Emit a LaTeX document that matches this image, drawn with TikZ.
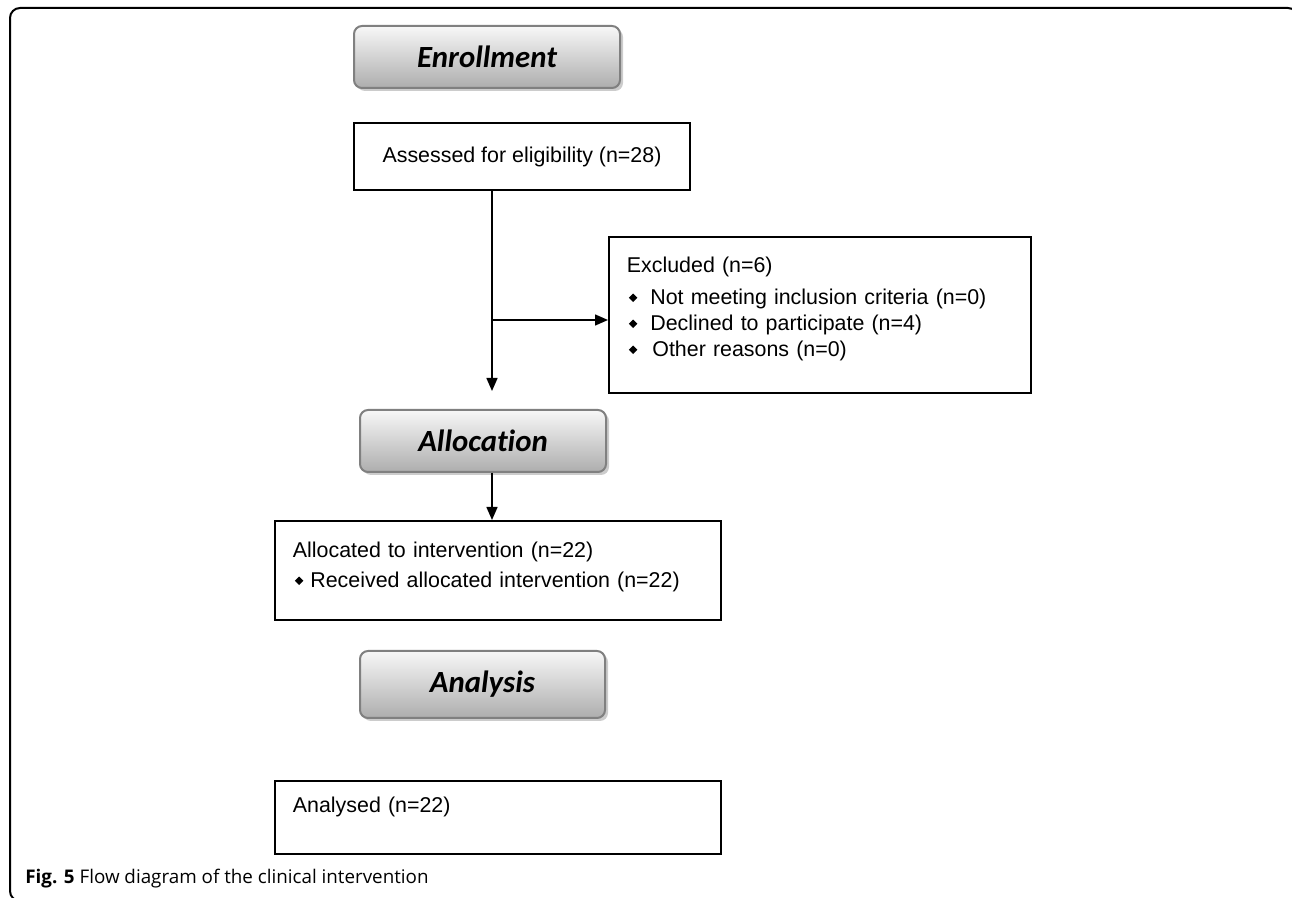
\documentclass[tikz,border=0pt]{standalone}
\usepackage{fontspec}
\setmainfont{Liberation Sans}
\newfontfamily\headfont[Ligatures=NoCommon]{Carlito}
\newfontfamily\capfont{Open Sans}
\usetikzlibrary{arrows.meta,shadows,positioning}

\newcommand{\dia}{\raisebox{0.25ex}{\rotatebox{45}{\rule{3pt}{3pt}}}}

\begin{document}
\begin{tikzpicture}[x=0.5pt,y=-0.5pt,
    box/.style={draw,line width=0.9pt,align=left,inner xsep=9pt,
      font=\fontsize{10.7}{13}\selectfont},
    phase/.style={draw=black!50,line width=1pt,rounded corners=4pt,
      top color=white!97!black,bottom color=black!32,
      drop shadow={shadow xshift=1.5pt,shadow yshift=-1.5pt,fill=black!20,opacity=1},
      minimum height=31pt,font=\headfont\fontsize{15.4}{18}\bfseries\itshape\selectfont},
    flow/.style={-{Triangle[length=6.5pt,width=5.5pt]},line width=0.75pt}]
  \useasboundingbox (0,0) rectangle (1292,898);
  \begin{scope}
    \clip (0,0) rectangle (1292,898);
    \draw[line width=1pt,rounded corners=5pt] (10,8) rectangle (1298,901);
  \end{scope}

  % phases
  \node[phase,minimum width=133pt] (enroll) at (487,57)  {Enrollment};
  \node[phase,minimum width=123pt] (alloc)  at (483,441) {Allocation};
  \node[phase,minimum width=122.5pt,minimum height=33.5pt] (analysis) at (482.5,684.5) {Analysis};

  % boxes
  \node[box,align=center,minimum width=168pt,minimum height=33.5pt] (assess) at (522,156.5)
    {Assessed for eligibility (n=28)};
  \node[box,anchor=north west,text width=193pt,inner ysep=0pt,text height=18pt,text depth=60pt] (excl) at (608,236)
    {Excluded (n=6)\\[3pt]
     \hspace*{1pt}\dia\hspace{6.5pt}Not meeting inclusion criteria (n=0)\\
     \hspace*{1pt}\dia\hspace{6.5pt}Declined to participate (n=4)\\
     \hspace*{1pt}\dia\hspace{7.5pt}Other reasons (n=0)};
  \node[box,anchor=north west,text width=205pt,inner ysep=0pt,text height=18.5pt,text depth=31pt] (given) at (274,520)
    {Allocated to intervention (n=22)\\[2pt]
     \hspace*{1pt}\dia\hspace{3.5pt}Received allocated intervention (n=22)};
  \node[box,anchor=north west,text width=205pt,inner ysep=0pt,text height=16pt,text depth=20.5pt] (analysed) at (274,780)
    {Analysed (n=22)};

  % connectors
  \coordinate (split) at (492,320);
  \draw[flow,shorten >=9pt] (assess.south -| split) -- (alloc.north -| split);
  \draw[flow] (split) -- (split -| excl.west);
  \draw[flow] (alloc.south -| split) -- (given.north -| split);

  \node[anchor=base west,inner sep=0pt,font=\capfont\fontsize{9.4}{11}\selectfont] (caption) at (25,884)
    {\textbf{Fig. 5} Flow diagram of the clinical intervention};
\end{tikzpicture}
\end{document}
